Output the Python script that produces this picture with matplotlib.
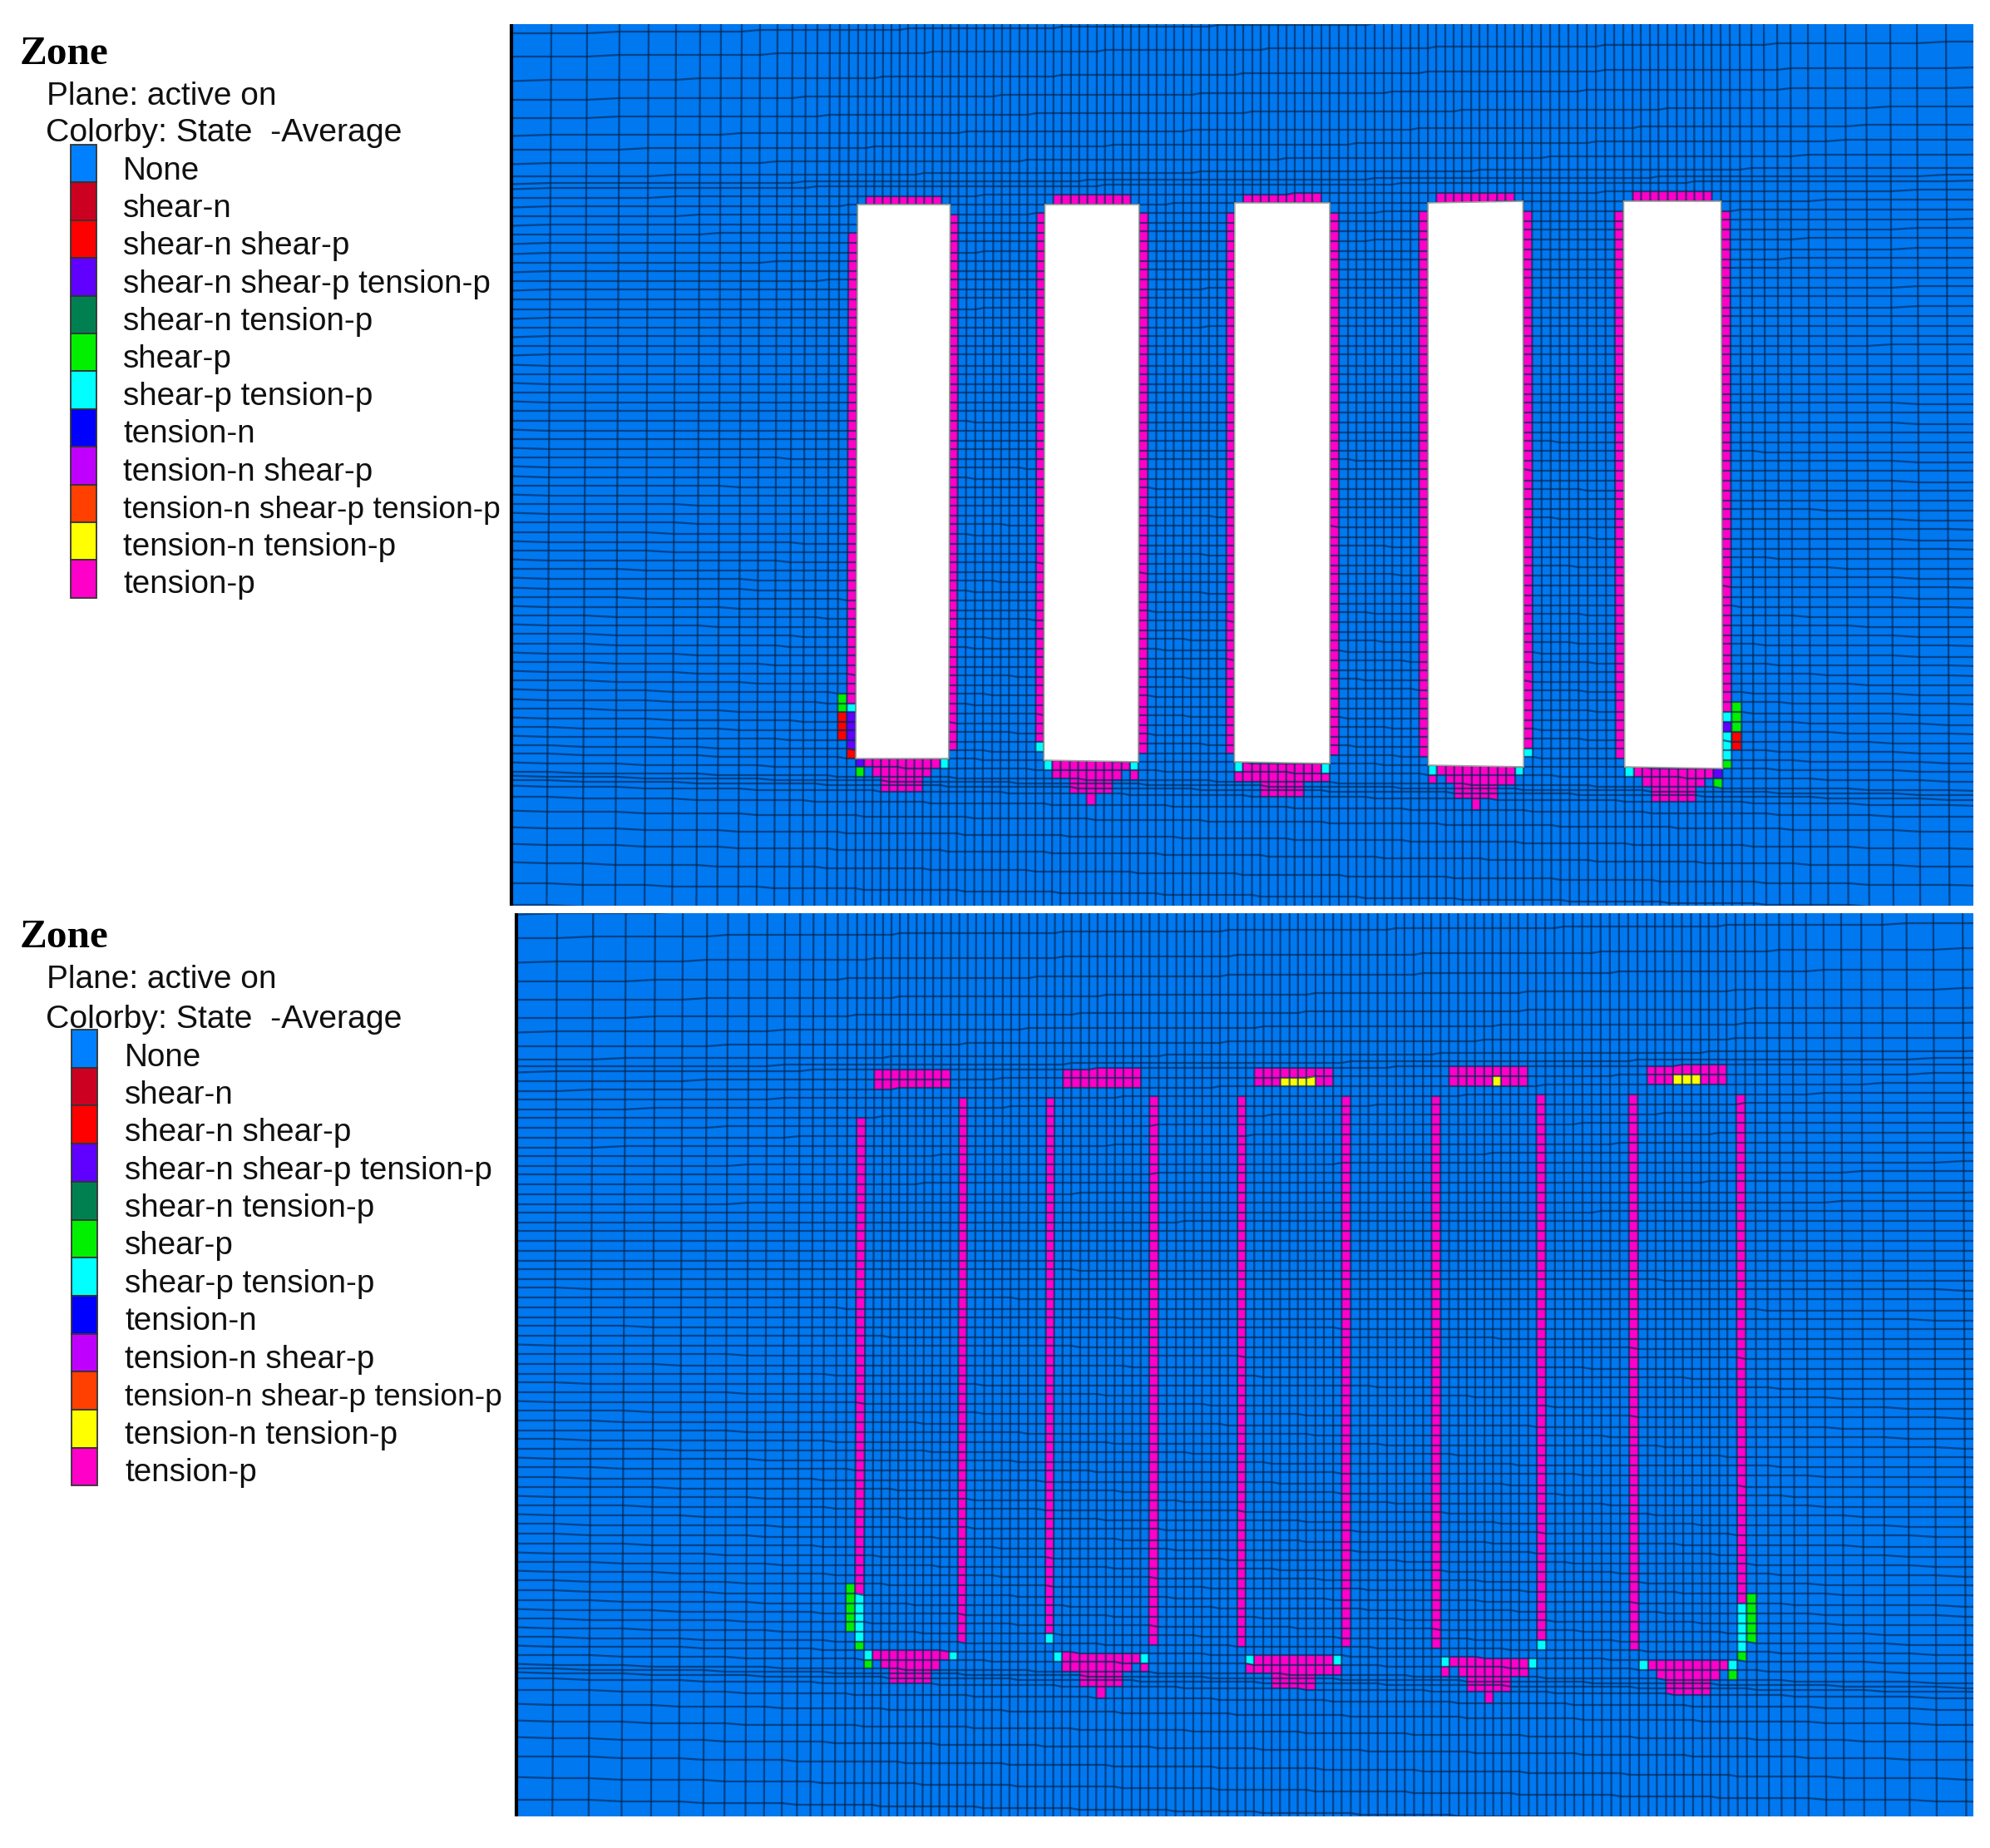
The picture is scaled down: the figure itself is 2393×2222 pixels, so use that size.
import numpy as np
import matplotlib
matplotlib.use('Agg')
import matplotlib.pyplot as plt
from matplotlib.collections import LineCollection
from matplotlib.colors import ListedColormap, BoundaryNorm
from matplotlib.patches import Polygon, Rectangle

STATE_LABELS = ['None', 'shear-n', 'shear-n shear-p', 'shear-n shear-p tension-p',
                'shear-n tension-p', 'shear-p', 'shear-p tension-p', 'tension-n',
                'tension-n shear-p', 'tension-n shear-p tension-p',
                'tension-n tension-p', 'tension-p']
STATE_COLORS = ['#0078F0', '#CC0020', '#FF0000', '#6000FF', '#008050', '#00F000',
                '#00FFFF', '#0000FF', '#C000FF', '#FF4000', '#FFFF00', '#FF00C8']
SN_SP, SN_SP_TP, SP, SP_TP, TN_TP, TP = 2, 3, 5, 6, 10, 11

# mesh lines (pixels of the upper panel)
COL_EDGES = [600, 663, 706, 745, 780, 813, 842, 867, 892, 914, 935, 953, 969, 983, 998, 1010, 1021,
             1032, 1042, 1052, 1062, 1072, 1082, 1092, 1102, 1112, 1122, 1133, 1143,
             1153, 1163, 1174, 1184, 1195, 1205, 1215, 1226, 1236, 1247, 1257,
             1267, 1277, 1288, 1298, 1308, 1319, 1329, 1339, 1350, 1360, 1370,
             1381, 1391, 1402, 1412, 1423, 1433, 1444, 1454, 1464, 1475, 1485,
             1495, 1506, 1516, 1526, 1537, 1547, 1557, 1568, 1578, 1589, 1599,
             1610, 1621, 1631, 1642, 1653, 1664, 1674, 1685, 1696, 1706, 1717,
             1727, 1738, 1748, 1758, 1769, 1779, 1789, 1800, 1810, 1821, 1831,
             1842, 1853, 1864, 1875, 1886, 1897, 1908, 1919, 1930, 1941, 1952,
             1963, 1973, 1984, 1994, 2005, 2016, 2027, 2037, 2048, 2058, 2069,
             2080, 2092, 2106, 2121, 2137, 2153, 2174, 2195, 2219, 2244, 2273, 2305, 2340, 2410]
ROW_EDGES = [10, 40, 68, 97, 120, 142, 163, 180, 197, 212, 221, 227, 238,
             249, 260, 271, 282, 293, 305, 316, 327, 338, 349, 360, 372, 383, 394, 405, 416,
             427, 439, 450, 461, 472, 483, 494, 506, 517, 528, 539, 550, 561, 573, 584, 595,
             606, 617, 628, 640, 651, 662, 673, 684, 695, 707, 718, 729, 740, 751, 762, 774,
             785, 796, 807, 818, 829, 841, 852, 863, 874, 885, 896,
             906, 917, 928, 933, 938, 945, 958, 975, 995, 1015, 1037, 1062, 1088, 1113, 1140]
TUNNEL_LEFT = [1032, 1257, 1485, 1717, 1952]
TUNNEL_COLS = 11
ROW_TOP = 249
ROW_BOTTOM = 906

# (tunnel, col of the wall relative to tunnel, rows below tunnel top, rows from tunnel bottom)
WALLS = [(0, -1, 3, -6), (0, 11, 1, -1), (1, -1, 1, -2), (1, 11, 1, -1), (2, -1, 1, -1),
         (2, 11, 1, -1), (3, -1, 1, -1), (3, 11, 1, -2), (4, -1, 1, -1), (4, 11, 1, -6)]

# (tunnel, row from, row to, col from, col to, state), rows relative to tunnel bottom
FLOOR_COMMON = [(0, 0, 1, 1, 10, TP), (0, 0, 1, 10, 11, SP_TP), (0, 1, 2, 0, 1, SP), (0, 1, 2, 2, 9, TP),
                (0, 2, 5, 3, 8, TP),
                (1, -2, -1, -1, 0, SP_TP), (1, 0, 1, 0, 1, SP_TP), (1, 0, 1, 1, 10, TP), (1, 0, 1, 10, 11, SP_TP),
                (1, 1, 2, 1, 9, TP), (1, 1, 2, 10, 11, TP), (1, 2, 5, 3, 8, TP), (1, 5, 6, 5, 6, TP),
                (2, 0, 1, 0, 1, SP_TP), (2, 0, 1, 1, 10, TP), (2, 0, 1, 10, 11, SP_TP), (2, 1, 2, 0, 11, TP),
                (2, 2, 5, 3, 8, TP),
                (3, -2, -1, 11, 12, SP_TP), (3, 0, 1, 0, 1, SP_TP), (3, 0, 1, 1, 10, TP), (3, 0, 1, 10, 11, SP_TP),
                (3, 1, 2, 0, 1, TP), (3, 1, 2, 2, 10, TP), (3, 2, 5, 3, 8, TP), (3, 5, 6, 5, 6, TP),
                (4, 0, 1, 0, 1, SP_TP), (4, 0, 1, 1, 10, TP), (4, 1, 2, 2, 9, TP), (4, 1, 2, 10, 11, SP),
                (4, 2, 5, 3, 8, TP)]
CORNERS_UPPER = [(0, -6, -5, -1, 0, SP_TP), (0, -5, -1, -1, 0, SN_SP_TP), (0, -1, 0, -1, 0, SN_SP),
                 (0, -7, -5, -2, -1, SP), (0, -5, -2, -2, -1, SN_SP), (0, 0, 1, 0, 1, SN_SP_TP),
                 (4, -6, -5, 11, 12, SP_TP), (4, -5, -4, 11, 12, SN_SP_TP), (4, -4, -1, 11, 12, SP_TP),
                 (4, -1, 0, 11, 12, SP), (4, -7, -4, 12, 13, SP), (4, -4, -2, 12, 13, SN_SP),
                 (4, 0, 1, 10, 11, SN_SP_TP)]
CORNERS_LOWER = [(0, -6, -1, -1, 0, SP_TP), (0, -1, 0, -1, 0, SP), (0, -7, -2, -2, -1, SP),
                 (0, 0, 1, 0, 1, SP_TP),
                 (4, -6, -1, 11, 12, SP_TP), (4, -1, 0, 11, 12, SP), (4, -7, -2, 12, 13, SP),
                 (4, 0, 1, 10, 11, SP_TP)]
# rows relative to tunnel top
ROOF_UPPER = [(t, -1, 0, 1, 10, TP) for t in range(5)]
ROOF_LOWER = [(t, -2, 0, 1, 10, TP) for t in range(5)] + [(2, -1, 0, 4, 8, TN_TP), (3, -1, 0, 6, 7, TN_TP),
                                                          (4, -1, 0, 4, 7, TN_TP)]

cmap = ListedColormap(STATE_COLORS)
norm = BoundaryNorm(np.arange(-0.5, 12.5), 12)
r_top = ROW_EDGES.index(ROW_TOP)
r_bot = ROW_EDGES.index(ROW_BOTTOM)
t_col = [COL_EDGES.index(v) for v in TUNNEL_LEFT]


def upper_mesh():
    xb, yb = np.meshgrid(np.array(COL_EDGES, float), np.array(ROW_EDGES, float))
    # mesh fans out towards the right and the bottom
    y = yb + (xb - 616) / 1757 * (6.5 + (yb - 577) * 0.047)
    x = xb + (xb - 1600) * 0.006 * (yb - 30) / 1060
    return x, y


def state_grid(walls, floor, corners, roof):
    grid = np.zeros((len(ROW_EDGES) - 1, len(COL_EDGES) - 1), int)
    for t, c, a, b in walls:
        grid[r_top + a:r_bot + b, t_col[t] + c] = TP
    for t, r0, r1, c0, c1, s in floor + corners:
        grid[r_bot + r0:r_bot + r1, t_col[t] + c0:t_col[t] + c1] = s
    for t, r0, r1, c0, c1, s in roof:
        grid[r_top + r0:r_top + r1, t_col[t] + c0:t_col[t] + c1] = s
    return grid


def draw_mesh(ax, x, y, grid):
    # small steps in the lines, as in the mesh plot
    y = np.round(y / 2.0) * 2.0
    ax.pcolormesh(x, y, grid, cmap=cmap, norm=norm, shading='flat', edgecolors='none', antialiased=False)
    segs = [np.column_stack([x[i], y[i]]) for i in range(x.shape[0])]
    segs += [np.column_stack([x[:, j], y[:, j]]) for j in range(x.shape[1])]
    ax.add_collection(LineCollection(segs, colors='#002a58', alpha=0.68, linewidths=1.65, zorder=2))
    return y


fig = plt.figure(figsize=(23.93, 22.22), dpi=100)
W, H = 2393.0, 2222.0


def panel(left, top, right, bottom):
    ax = fig.add_axes([left / W, 1 - bottom / H, (right - left) / W, (bottom - top) / H])
    ax.set_xlim(left, right)
    ax.set_ylim(bottom, top)
    ax.set_facecolor(STATE_COLORS[0])
    ax.axis('off')
    ax.add_patch(Rectangle((left, top), right - left, bottom - top, color=STATE_COLORS[0], zorder=0))
    return ax


# upper panel, tunnels open
ax1 = panel(616, 29, 2373, 1089)
x1, y1 = upper_mesh()
y1q = draw_mesh(ax1, x1, y1, state_grid(WALLS, FLOOR_COMMON, CORNERS_UPPER, ROOF_UPPER))
for c in t_col:
    xs = [x1[r_top, c], x1[r_top, c + TUNNEL_COLS], x1[r_bot, c + TUNNEL_COLS], x1[r_bot, c]]
    ys = [y1q[r_top, c], y1q[r_top, c + TUNNEL_COLS], y1q[r_bot, c + TUNNEL_COLS], y1q[r_bot, c]]
    ax1.add_patch(Polygon(np.column_stack([xs, ys]), closed=True, facecolor='white',
                          edgecolor='#9aa59a', linewidth=1.2, zorder=3))

# lower panel, same mesh shifted on the page
ax2 = panel(622, 1098, 2373, 2184)
x2 = x1 + 7 + (x1 - 663) * 0.00775
y2 = y1 + 1060 + (y1 - 100) * 0.0155
draw_mesh(ax2, x2, y2, state_grid(WALLS, FLOOR_COMMON, CORNERS_LOWER, ROOF_LOWER))

# legends and black axis lines
over = fig.add_axes([0, 0, 1, 1])
over.set_xlim(0, W)
over.set_ylim(H, 0)
over.axis('off')
over.patch.set_alpha(0)
over.plot([615, 615], [29, 1089], color='black', lw=3.0, solid_capstyle='butt')
over.plot([621, 621], [1098, 2184], color='black', lw=3.0, solid_capstyle='butt')


def legend(zone_y, plane_y, color_y, box_x, box_top, first_y, box_step, text_step, text_x):
    over.text(24, zone_y, 'Zone', family='Liberation Serif', weight='bold', fontsize=35.5, va='baseline', color='black')
    sans = dict(family='Liberation Sans', va='baseline', color='#101010')
    over.text(56, plane_y, 'Plane: active on', fontsize=28, **sans)
    over.text(55, color_y, 'Colorby: State  -Average', fontsize=28.3, **sans)
    for i, (lab, col) in enumerate(zip(STATE_LABELS, ['#0080FF'] + STATE_COLORS[1:])):
        over.add_patch(Rectangle((box_x, box_top + i * box_step), 31, box_step, facecolor=col,
                                 edgecolor='#333333', linewidth=1.3))
        # the longest label is set a little tighter in the reference
        size = 26.8 if i == 9 else 27.8
        over.text(text_x, first_y + i * text_step, lab, fontsize=size, **sans)


legend(77, 125.5, 170.5, 85, 174, 216, 45.4, 45.2, 148)
legend(1139, 1188, 1236, 86, 1238, 1281.5, 45.7, 45.4, 150)

fig.savefig('out.png', dpi=100)
